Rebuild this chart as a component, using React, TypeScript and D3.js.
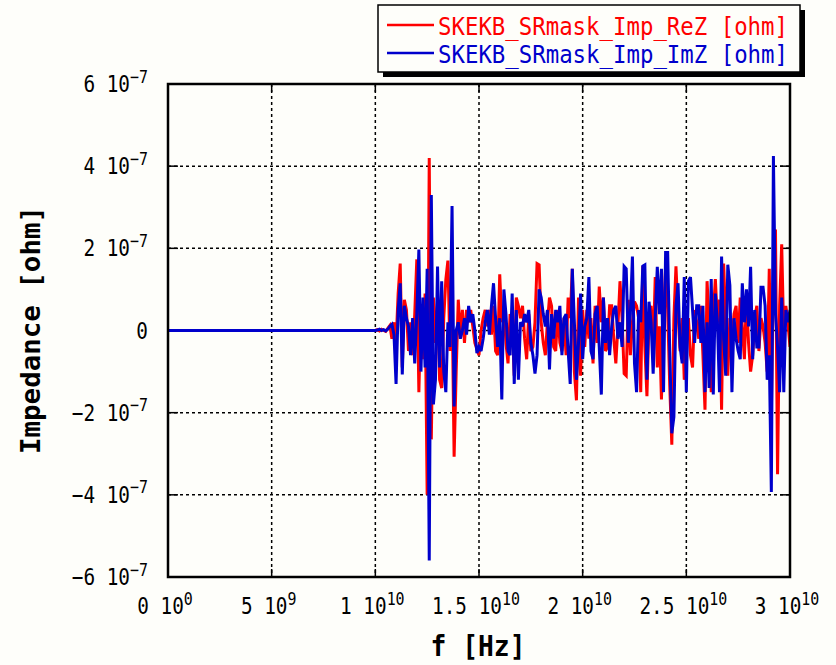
import React from "react";
import * as d3 from "d3";

// Frequency grid of the sampled data (Hz)
const FREQ_START = 1e10;
const FREQ_STEP = 1e8;
const UNIT = 1e-7;

// Re(Z) values in units of 1e-7 ohm, from 10 GHz in 0.1 GHz steps
const reZ: number[] = [
  0, 0.02, -0.01, 0.03, 0, -0.02, 0.05, 0.12, -0.2, 0.2,
  -0.3, 0.9, 1.63, -0.9, 0.75, 0.5, -0.5, 0.2, -0.6, 0.4,
  1.73, -1.5, 0.6, -0.7, 0.9, -4.0, 4.2, -2.65, 0.8, -0.3,
  0.7, -1.2, -1.4, 0.3, 1.24, 1.7, -0.5, 0.8, -3.07, -1.0,
  0.75, -0.1, 0.5, -0.3, 0.5, 0.2, 0.5, 0.1, -0.3, -0.45,
  -0.6, 0.0, 0.3, 0.5, 0.1, 0.5, -0.1, 0.6, -0.5, -0.6,
  1.37, 0.2, 0.6, -0.3, -0.8, 0.4, 0.2, -1.1, 0.8, 0.6,
  0.3, 0.6, -0.2, -0.7, 0.4, -0.5, -0.4, 0.2, 1.63, 1.6,
  0.2, -0.3, -0.6, 0.2, 0.8, 0.6, -0.4, -0.5, 0.5, -0.3,
  -0.5, 0.3, -0.6, 0.8, 0.3, 1.5, -1.0, -1.7, 0.8, -1.1,
  0.5, -0.4, 0.5, -0.2, 0.3, -0.8, 0.6, -0.3, 1.07, 0.2,
  0.8, -0.5, -0.4, 0.6, 0.6, -0.2, -0.8, 0.1, 1.2, 0.3,
  -1.05, -1.1, 0.75, -0.6, 0.2, 0.7, 0.6, 0.3, -1.5, 1.57,
  -0.4, -1.6, 0.3, 0.6, -0.5, 1.3, -0.9, 0.1, -1.68, 0.3,
  1.56, 0.5, -1.35, -2.78, 0.3, 1.56, 0.4, -0.5, 0.3, -1.2,
  -0.3, 0.3, -0.6, -0.9, 0.5, 0.2, -0.2, 0.6, -0.6, -1.93,
  1.2, 0.2, -1.5, 0.4, 1.25, 0.2, 0.75, -1.93, 1.63, 0.2,
  -1.1, 0.3, -0.3, 0.4, 0.6, -0.3, 0.8, 0.1, -0.7, 0.8,
  -0.3, -1.0, -0.6, 0.3, 0.6, -0.5, 0.3, 0.1, -0.3, -1.0,
  1.5, -2.03, 1.5, 2.46, -3.5, 0.6, 2.1, -0.2, 0.6, 0.2, -0.4,
];

// Im(Z) values in units of 1e-7 ohm
const imZ: number[] = [
  0, 0.01, 0.03, 0, 0.02, -0.01, 0.03, 0.1, 0.15, -0.1,
  -1.3, 0.5, 1.15, -1.07, 0.6, 0.3, 0.1, -0.6, 0.3, -0.8,
  0.4, 1.97, -1.0, 0.8, -0.9, 1.5, -5.6, 3.3, -1.8, -1.2,
  1.56, -0.9, 1.2, -1.0, -1.5, 0.2, -0.4, 3.03, -1.85, 0.0,
  0.2, -0.2, 0.0, 0.3, -0.1, 0.6, 0.2, 0.4, 0.0, -0.55,
  -0.4, -0.5, -0.2, 0.2, 0.5, -0.1, 0.6, 1.15, 0.3, -0.4,
  0.3, -1.68, 1.0, 0.4, -0.5, -0.6, 0.9, -1.3, 0.5, -1.2,
  0.2, 0.1, 0.4, 0.2, 0.5, -0.3, -0.6, -1.05, -0.6, 1.0,
  0.8, 0.4, 0.1, 0.5, -0.95, 0.4, -0.2, 0.5, 0.2, 0.6,
  -0.6, 0.3, 0.4, -0.5, -1.3, 1.5, 0.2, -1.2, -0.3, 0.9,
  -0.7, 0.1, 0.3, 1.3, -0.5, -0.7, 0.4, 0.6, -0.4, -1.56,
  0.8, -0.3, 0.3, -0.6, 0.1, 0.5, 0.6, -0.2, 0.2, -0.4,
  1.56, 1.5, -0.3, 0.4, 1.8, -0.8, -1.5, 0.5, 0.2, 1.57,
  1.6, -1.2, 0.7, 0.2, -1.05, 0.3, 1.55, 0.4, 1.5, -1.5,
  1.9, 1.9, -0.5, -2.5, -2.1, 0.6, 1.15, -0.4, -0.8, 1.3,
  -1.5, 1.2, 1.3, 0.5, -0.3, 0.6, 0.6, -0.3, 0.6, -1.5,
  0.2, -1.4, 1.25, -1.56, 0.9, 0.2, -1.5, 1.8, -0.2, -1.1,
  1.6, 1.1, -1.5, 0.3, -0.2, -0.5, -0.7, 1.15, 0.2, 1.0,
  0.1, 1.55, -0.7, 0.5, -0.4, -0.4, 1.05, 1.05, 0.6, -1.2,
  -0.6, -3.93, 4.25, 0.4, -0.4, -1.5, 0.8, -1.5, 0.5, 0.2, 0.5,
];

const xTicks = [0, 5e9, 1e10, 1.5e10, 2e10, 2.5e10, 3e10];
const xTickMain = ["0 10", "5 10", "1 10", "1.5 10", "2 10", "2.5 10", "3 10"];
const xTickSup = ["0", "9", "10", "10", "10", "10", "10"];

const yTicks = [6e-7, 4e-7, 2e-7, 0, -2e-7, -4e-7, -6e-7];
const yTickMain = ["6 10", "4 10", "2 10", "0", "\u22122 10", "\u22124 10", "\u22126 10"];
const yTickSup = ["\u22127", "\u22127", "\u22127", "", "\u22127", "\u22127", "\u22127"];

const seriesNames = ["SKEKB_SRmask_Imp_ReZ [ohm]", "SKEKB_SRmask_Imp_ImZ [ohm]"];
const seriesColors = ["#ff0000", "#0000cc"];

const W = 836;
const H = 665;
const L = 168, R = 790, T = 84, B = 577;
const MONO = "'DejaVu Sans Mono', 'Liberation Mono', monospace";

type Pt = { f: number; v: number };

function toPoints(vals: number[]): Pt[] {
  const pts: Pt[] = [{ f: 0, v: 0 }];
  vals.forEach((v, i) => pts.push({ f: FREQ_START + i * FREQ_STEP, v: v * UNIT }));
  return pts;
}

export default function App() {
  const x = d3.scaleLinear().domain([0, 3e10]).range([L, R]);
  const y = d3.scaleLinear().domain([-6e-7, 6e-7]).range([B, T]);
  const line = d3
    .line<Pt>()
    .x((d) => x(d.f))
    .y((d) => y(d.v));
  const series = [toPoints(reZ), toPoints(imZ)];

  return (
    <svg
      width={W}
      height={H}
      style={{ position: "absolute", left: 0, top: 0, background: "#fefefa" }}
    >
      <rect x={0} y={0} width={W} height={H} fill="#fefefa" />
      {/* grid */}
      <g stroke="#000" strokeWidth={1.5} strokeDasharray="3,3">
        {xTicks.slice(1, -1).map((t, i) => (
          <line key={"gx" + i} x1={x(t)} x2={x(t)} y1={T} y2={B} />
        ))}
        {yTicks.slice(1, -1).map((t, i) => (
          <line key={"gy" + i} x1={L} x2={R} y1={y(t)} y2={y(t)} />
        ))}
      </g>
      {/* ticks */}
      <g stroke="#000" strokeWidth={1.5}>
        {xTicks.map((t, i) => (
          <g key={"tx" + i}>
            <line x1={x(t)} x2={x(t)} y1={B} y2={B - 8} />
            <line x1={x(t)} x2={x(t)} y1={T} y2={T + 8} />
          </g>
        ))}
        {yTicks.map((t, i) => (
          <g key={"ty" + i}>
            <line x1={L} x2={L + 10} y1={y(t)} y2={y(t)} />
            <line x1={R} x2={R - 10} y1={y(t)} y2={y(t)} />
          </g>
        ))}
      </g>
      {/* data */}
      <g clipPath="url(#clip)">
        {series.map((s, i) => (
          <path
            key={"s" + i}
            d={line(s) || ""}
            fill="none"
            stroke={seriesColors[i]}
            strokeWidth={3}
            strokeLinejoin="miter"
            strokeMiterlimit={3}
          />
        ))}
      </g>
      <defs>
        <clipPath id="clip">
          <rect x={L} y={T - 20} width={R - L} height={B - T + 20} />
        </clipPath>
      </defs>
      {/* frame */}
      <rect x={L} y={T} width={R - L} height={B - T} fill="none" stroke="#000" strokeWidth={2.5} />
      {/* y tick labels */}
      {yTicks.map((t, i) => (
        <g key={"yl" + i} transform={`translate(148,${y(t) + 8}) scale(0.88,1.05)`}>
          <text fontFamily={MONO} fontSize={22} textAnchor="end" fill="#000">
            {yTickMain[i]}
            {yTickSup[i] ? (
              <tspan fontSize={17} dy={-9}>
                {yTickSup[i]}
              </tspan>
            ) : null}
          </text>
        </g>
      ))}
      {/* x tick labels */}
      {xTicks.map((t, i) => (
        <g key={"xl" + i} transform={`translate(${x(t) - 3},614) scale(0.88,1.05)`}>
          <text fontFamily={MONO} fontSize={22} textAnchor="middle" fill="#000">
            {xTickMain[i]}
            <tspan fontSize={17} dy={-9}>
              {xTickSup[i]}
            </tspan>
          </text>
        </g>
      ))}
      {/* axis titles */}
      <text
        transform="translate(40,330) rotate(-90)"
        fontFamily={MONO}
        fontWeight="bold"
        fontSize={27}
        textAnchor="middle"
        textLength={248}
        lengthAdjust="spacingAndGlyphs"
        fill="#000"
      >
        Impedance [ohm]
      </text>
      <text
        x={478}
        y={656}
        fontFamily={MONO}
        fontWeight="bold"
        fontSize={28}
        textAnchor="middle"
        textLength={95}
        lengthAdjust="spacingAndGlyphs"
        fill="#000"
      >
        f [Hz]
      </text>
      {/* legend */}
      <rect x={383} y={10} width={422} height={67} fill="#000" />
      <rect x={378} y={5} width={422} height={67} fill="#fefefa" stroke="#000" strokeWidth={1.5} />
      {seriesNames.map((n, i) => (
        <g key={"lg" + i}>
          <line x1={387} x2={434} y1={25 + i * 28} y2={25 + i * 28} stroke={seriesColors[i]} strokeWidth={2.5} />
          <text
            x={438}
            y={35 + i * 28}
            fontFamily={MONO}
            fontSize={25}
            textLength={350}
            lengthAdjust="spacingAndGlyphs"
            fill={seriesColors[i]}
          >
            {n}
          </text>
        </g>
      ))}
    </svg>
  );
}
